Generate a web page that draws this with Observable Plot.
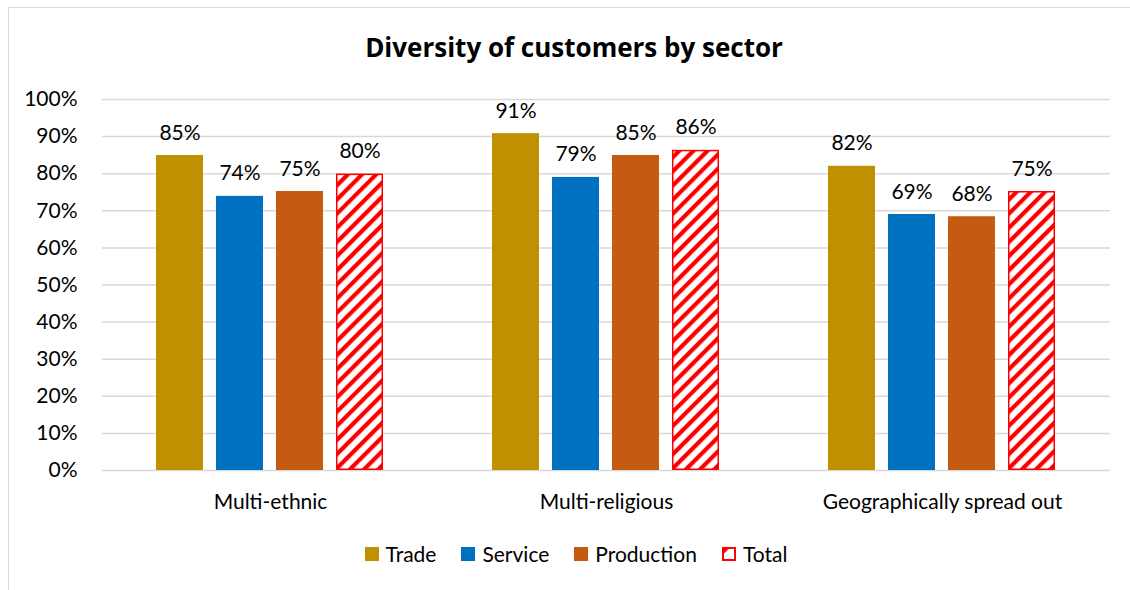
<!DOCTYPE html>
<html><head><meta charset="utf-8">
<script src="https://cdn.jsdelivr.net/npm/d3@7"></script>
<script src="https://cdn.jsdelivr.net/npm/@observablehq/plot@0.6"></script>
<style>
html,body{margin:0;padding:0;background:#fff;width:1130px;height:590px;overflow:hidden;position:relative;font-family:Lato,"Noto Sans",sans-serif;color:#000;}
#frame{position:absolute;left:8px;top:7px;width:1300px;height:800px;border:1.5px solid #d9d9d9;box-sizing:border-box;}
#title{position:absolute;left:0;top:31px;width:1148px;text-align:center;font-family:"Open Sans",Lato,sans-serif;font-weight:bold;font-size:26px;line-height:32px;}
#chart{position:absolute;left:0;top:80px;}
#legend{position:absolute;top:541px;left:0;width:1152px;display:flex;justify-content:center;gap:25px;font-size:21px;line-height:26px;}
#legend .item{display:flex;align-items:center;}
#legend .sw{width:14px;height:14px;margin-right:7px;display:inline-block;}
</style></head>
<body>
<svg width="0" height="0" style="position:absolute">
  <defs>
    <pattern id="stripes" patternUnits="userSpaceOnUse" width="10" height="10" patternTransform="rotate(45)">
      <rect width="10" height="10" fill="#fff"/>
      <rect x="0" y="0" width="4.2" height="10" fill="#ff0000"/>
    </pattern>
    <pattern id="stripesSmall" patternUnits="userSpaceOnUse" width="40" height="40" patternTransform="rotate(45)">
      <rect width="40" height="40" fill="#fff"/>
      <rect x="0" y="0" width="6" height="40" fill="#ff0000"/>
    </pattern>
  </defs>
</svg>
<div id="frame"></div>
<div id="title">Diversity of customers by sector</div>
<div id="chart"></div>
<div id="legend"></div>
<script>
const categories = ["Multi-ethnic", "Multi-religious", "Geographically spread out"];
const series = ["Trade", "Service", "Production", "Total"];
const trade = [0.849, 0.908, 0.820];
const service = [0.739, 0.790, 0.690];
const production = [0.752, 0.849, 0.684];
const total = [0.799, 0.863, 0.752];
const colors = ["#bf9000", "#0070c0", "#c55a11", "#ff0000"];
const yTicks = d3.range(0, 11).map(i => i / 10);

const valuesBySeries = [trade, service, production, total];
const data = [];
categories.forEach((c, i) => {
  series.forEach((s, j) => {
    data.push({category: c, series: s, value: valuesBySeries[j][i]});
  });
});
const solid = data.filter(d => d.series !== "Total");
const hatched = data.filter(d => d.series === "Total");
const pct = d3.format(".0%");

const chart = Plot.plot({
  width: 1130,
  height: 440,
  marginLeft: 101,
  marginRight: 20,
  marginTop: 19,
  marginBottom: 50,
  style: {fontFamily: "Lato, 'Noto Sans', sans-serif", fontSize: "21px", color: "#000", background: "transparent"},
  fx: {domain: categories, padding: 0, label: null},
  x: {domain: series, paddingInner: 0.213, paddingOuter: 0.861, axis: null},
  y: {domain: [0, 1], label: null},
  color: {domain: series, range: colors},
  marks: [
    Plot.gridY(yTicks, {stroke: "#d9d9d9", strokeOpacity: 1, strokeWidth: 1.5}),
    Plot.axisY(yTicks, {tickSize: 0, tickPadding: 25, tickFormat: pct, fontSize: 21, label: null}),
    Plot.axisFx({anchor: "bottom", tickSize: 0, tickPadding: 24, fontSize: 21, label: null}),
    Plot.barY(solid, {fx: "category", x: "series", y: "value", fill: "series"}),
    Plot.barY(hatched, {fx: "category", x: "series", y: "value", fill: "url(#stripes)", stroke: "#ff0000", strokeWidth: 1.5, inset: 0.75}),
    Plot.text(data, {fx: "category", x: "series", y: "value", text: d => pct(d.value), lineAnchor: "bottom", dy: -16, fontSize: 21, fill: "#000"})
  ]
});
document.getElementById("chart").appendChild(chart);

const legend = d3.select("#legend");
series.forEach((s, j) => {
  const item = legend.append("div").attr("class", "item");
  if (s === "Total") {
    const svg = item.append("svg").attr("width", 14).attr("height", 14).style("margin-right", "7px");
    svg.append("rect").attr("x", 1).attr("y", 1).attr("width", 12).attr("height", 12)
      .attr("fill", "url(#stripesSmall)").attr("stroke", "#ff0000").attr("stroke-width", 2);
  } else {
    item.append("span").attr("class", "sw").style("background", colors[j]);
  }
  item.append("span").text(s);
});
</script>
</body></html>
